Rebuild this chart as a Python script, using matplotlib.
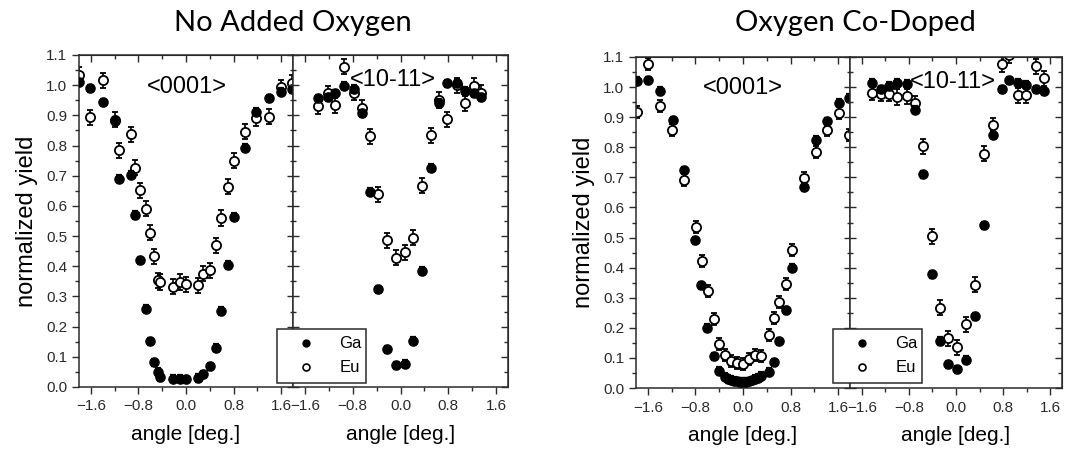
import matplotlib
matplotlib.use("Agg")
import matplotlib.pyplot as plt
from matplotlib.ticker import MultipleLocator, NullFormatter
from matplotlib.lines import Line2D

plt.rcParams['font.family'] = ['Liberation Sans', 'DejaVu Sans']

# ---- No Added Oxygen, <0001>
na_0001_ang = [-1.80, -1.61, -1.40, -1.20, -1.12, -0.93, -0.86, -0.77, -0.68, -0.60, -0.54, -0.47, -0.43, -0.22,
               -0.10, 0.00, 0.20, 0.29, 0.40, 0.50, 0.59, 0.70, 0.80, 0.99, 1.18, 1.40, 1.59, 1.79]
na_0001_ga = [1.01, 0.99, 0.943, 0.882, 0.69, 0.704, 0.57, 0.42, 0.26, 0.151, 0.082, 0.05, 0.033, 0.028,
              0.028, 0.025, 0.03, 0.042, 0.069, 0.13, 0.252, 0.404, 0.564, 0.793, 0.912, 0.956, 0.978, 0.986]
na_0001_eu = [1.034, 0.893, 1.017, 0.885, 0.785, 0.837, 0.727, 0.652, 0.591, 0.511, 0.433, 0.354, 0.348, 0.332,
              0.348, 0.34, 0.337, 0.376, 0.387, 0.469, 0.56, 0.663, 0.75, 0.846, 0.89, 0.895, 0.993, 1.008]

# ---- No Added Oxygen, <10-11>
na_1011_ang = [-1.38, -1.22, -1.09, -0.95, -0.78, -0.65, -0.51, -0.37, -0.22, -0.075,
               0.07, 0.21, 0.36, 0.51, 0.64, 0.78, 0.94, 1.08, 1.23, 1.35]
na_1011_ga = [0.956, 0.96, 0.973, 0.998, 0.987, 0.907, 0.647, 0.324, 0.125, 0.072,
              0.077, 0.153, 0.385, 0.727, 0.942, 1.006, 1.006, 0.982, 0.973, 0.96]
na_1011_eu = [0.931, 0.973, 0.934, 1.061, 0.975, 0.925, 0.831, 0.639, 0.486, 0.429,
              0.447, 0.495, 0.667, 0.834, 0.951, 0.887, 1.0, 0.94, 0.998, 0.975]

# ---- Oxygen Co-Doped, <0001>
co_0001_ang_ga = [-1.78, -1.60, -1.39, -1.18, -1.00, -0.80, -0.70, -0.60, -0.49, -0.40, -0.30, -0.25, -0.20,
                  -0.15, -0.10, -0.05, 0.00, 0.05, 0.10, 0.15, 0.20, 0.25, 0.30, 0.43, 0.52, 0.61, 0.72, 0.82,
                  1.02, 1.22, 1.41, 1.61, 1.79]
co_0001_ga = [1.02, 1.022, 0.987, 0.89, 0.723, 0.491, 0.341, 0.20, 0.105, 0.057, 0.037, 0.03, 0.027,
              0.024, 0.022, 0.02, 0.02, 0.02, 0.022, 0.025, 0.03, 0.034, 0.04, 0.053, 0.086, 0.155, 0.258, 0.40,
              0.668, 0.825, 0.886, 0.948, 0.964]
co_0001_ang_eu = [-1.78, -1.59, -1.40, -1.19, -1.00, -0.79, -0.69, -0.59, -0.48, -0.40, -0.30, -0.20, -0.10,
                  0.00, 0.10, 0.20, 0.30, 0.43, 0.52, 0.61, 0.72, 0.82, 1.02, 1.22, 1.41, 1.61, 1.79]
co_0001_eu = [0.917, 1.078, 0.937, 0.859, 0.692, 0.535, 0.421, 0.322, 0.23, 0.145, 0.109, 0.09, 0.083,
              0.081, 0.095, 0.109, 0.105, 0.175, 0.233, 0.286, 0.345, 0.458, 0.699, 0.784, 0.856, 0.914, 0.84]

# ---- Oxygen Co-Doped, <10-11>
co_1011_ang = [-1.43, -1.27, -1.13, -1.00, -0.84, -0.70, -0.555, -0.41, -0.27, -0.13, 0.02,
               0.17, 0.32, 0.47, 0.63, 0.78, 0.90, 1.06, 1.19, 1.35, 1.49]
co_1011_ga = [1.015, 0.993, 1.004, 1.015, 1.011, 0.925, 0.71, 0.378, 0.156, 0.079, 0.062,
              0.094, 0.238, 0.541, 0.842, 0.993, 1.022, 1.015, 1.008, 0.993, 0.987]
co_1011_eu = [0.981, 0.978, 0.978, 0.967, 0.97, 0.947, 0.803, 0.504, 0.266, 0.166, 0.136,
              0.212, 0.343, 0.779, 0.873, 1.076, 1.105, 0.973, 0.973, 1.069, 1.03]

ga_err = 0.012
eu_err = 0.025
eu_err_codoped = 0.02

INK = '#2b2b2b'


def draw_panel(ax, ang_ga, ga, ang_eu, eu, e_err, tag, tag_x, tag_y, first):
    ax.errorbar(ang_eu, eu, yerr=e_err, fmt='o', ms=6.6, mfc='white', mec='black', mew=1.3,
                ecolor='black', elinewidth=1.2, capsize=2.5, capthick=1.6, zorder=2)
    ax.errorbar(ang_ga, ga, yerr=ga_err, fmt='o', ms=6.6, mfc='black', mec='black',
                ecolor='black', elinewidth=1.2, capsize=2.5, capthick=1.6, zorder=3)
    ax.set_xlim(-1.8, 1.8)
    ax.set_ylim(0, 1.1)
    ax.xaxis.set_major_locator(MultipleLocator(0.8))
    ax.xaxis.set_minor_locator(MultipleLocator(0.4))
    ax.yaxis.set_major_locator(MultipleLocator(0.1))
    ax.yaxis.set_minor_locator(MultipleLocator(0.05))
    for s in ax.spines.values():
        s.set_color(INK)
        s.set_linewidth(1.1)
    ax.tick_params(axis='x', which='major', direction='out', length=5, width=1, colors=INK,
                   labelsize=11, pad=4)
    ax.tick_params(axis='x', which='minor', direction='out', length=3, width=1, colors=INK)
    if first:
        ax.tick_params(axis='y', which='major', direction='out', length=5, width=1, colors=INK,
                       labelsize=11)
        ax.tick_params(axis='y', which='minor', direction='out', length=3, width=1, colors=INK)
        ax.set_ylabel('normalized yield', fontsize=17, labelpad=6)
    else:
        ax.tick_params(axis='y', which='major', direction='inout', length=9, width=1, colors=INK,
                       labelleft=False)
        ax.tick_params(axis='y', which='minor', direction='inout', length=5, width=1, colors=INK)
        sec = ax.secondary_yaxis('right')
        sec.yaxis.set_major_locator(MultipleLocator(0.1))
        sec.yaxis.set_minor_locator(MultipleLocator(0.05))
        sec.yaxis.set_major_formatter(NullFormatter())
        sec.tick_params(which='major', direction='in', length=5, width=1, colors=INK)
        sec.tick_params(which='minor', direction='in', length=3, width=1, colors=INK)
        sec.spines['right'].set_color(INK)
    top = ax.secondary_xaxis('top')
    top.xaxis.set_major_locator(MultipleLocator(0.8))
    top.xaxis.set_minor_locator(MultipleLocator(0.4))
    top.xaxis.set_major_formatter(NullFormatter())
    top.tick_params(which='major', direction='in', length=5, width=1, colors=INK)
    top.tick_params(which='minor', direction='in', length=3, width=1, colors=INK)
    top.spines['top'].set_color(INK)
    ax.set_xlabel('angle [deg.]', fontsize=15, labelpad=8)
    ax.text(tag_x, tag_y, tag, transform=ax.transAxes, ha='center', va='center', fontsize=17)


fig = plt.figure(figsize=(10.72, 4.5), dpi=100)
W, H = 1072.0, 450.0

ax1 = fig.add_axes([79 / W, 1 - 387 / H, 214 / W, 332 / H])
ax2 = fig.add_axes([293 / W, 1 - 387 / H, 215 / W, 332 / H])
ax3 = fig.add_axes([636 / W, 1 - 388 / H, 214 / W, 331 / H])
ax4 = fig.add_axes([850 / W, 1 - 388 / H, 212 / W, 331 / H])

draw_panel(ax1, na_0001_ang, na_0001_ga, na_0001_ang, na_0001_eu, eu_err, '<0001>', 0.505, 0.905, True)
draw_panel(ax2, na_1011_ang, na_1011_ga, na_1011_ang, na_1011_eu, eu_err, '<10-11>', 0.465, 0.925, False)
draw_panel(ax3, co_0001_ang_ga, co_0001_ga, co_0001_ang_eu, co_0001_eu, eu_err_codoped, '<0001>', 0.5, 0.905, True)
draw_panel(ax4, co_1011_ang, co_1011_ga, co_1011_ang, co_1011_eu, eu_err, '<10-11>', 0.486, 0.925, False)

handles = [Line2D([], [], ls='none', marker='o', ms=5, mfc='black', mec='black'),
           Line2D([], [], ls='none', marker='o', ms=5, mfc='white', mec='black', mew=1.2)]
for ax, x0 in [(ax2, 277), (ax4, 833)]:
    leg = ax.legend(handles, ['Ga', 'Eu'], loc='lower left', bbox_to_anchor=(x0 / W, 1 - 383 / H, 89 / W, 0.1),
                    bbox_transform=fig.transFigure, mode='expand', fontsize=12, frameon=True, fancybox=False,
                    edgecolor=INK, framealpha=1, borderpad=0.45, labelspacing=0.55, handlelength=2.6,
                    handletextpad=0.7, borderaxespad=0)
    leg.get_frame().set_linewidth(1.1)
    leg.set_zorder(10)

fig.text(293 / W, 1 - 23 / H, 'No Added Oxygen', ha='center', va='center', fontsize=21, family='Lato')
fig.text(855 / W, 1 - 23 / H, 'Oxygen Co-Doped', ha='center', va='center', fontsize=21, family='Lato')

fig.savefig('out.png', dpi=100)
